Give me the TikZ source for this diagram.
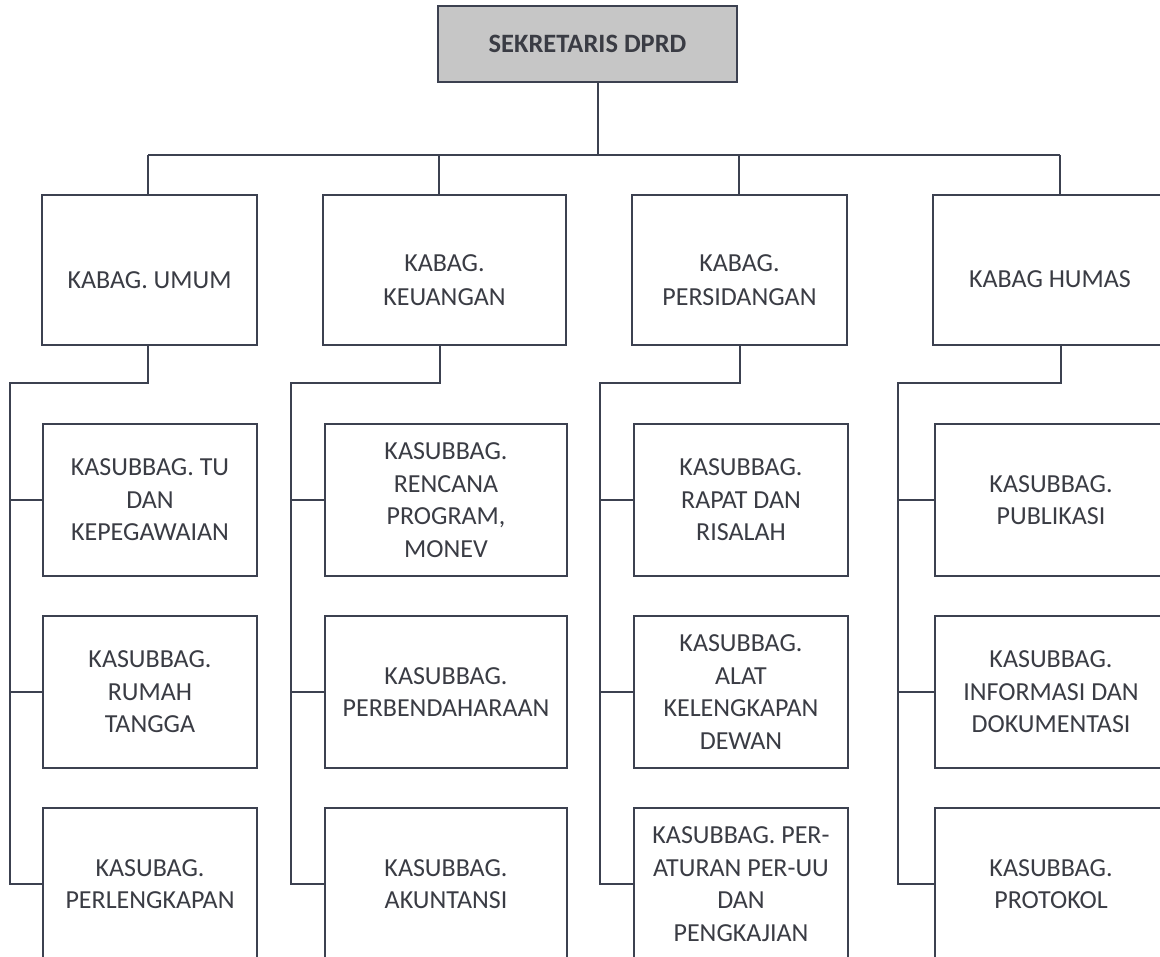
\documentclass[tikz,border=0pt]{standalone}
\usepackage{fontspec}
\setmainfont{Carlito}
\definecolor{linec}{HTML}{3C4150}
\definecolor{textc}{HTML}{3A3C44}
\definecolor{headfill}{HTML}{C6C6C6}
\begin{document}
\begin{tikzpicture}[x=1pt,y=-1pt,
  box/.style={draw=linec, line width=1.8pt, fill=white, align=center,
    inner sep=0pt, text=textc, font=\fontsize{26}{32.5}\selectfont,
    minimum height=152pt},
  headbox/.style={box, minimum height=150pt},
  headtext/.style={align=center, inner sep=0pt, text=textc,
    font=\fontsize{26}{33.5}\selectfont},
  topbox/.style={box, fill=headfill, minimum width=299pt, minimum height=76pt,
    font=\fontsize{26.5}{30}\selectfont\bfseries},
  conn/.style={draw=linec, line width=1.5pt}]
\useasboundingbox (0,0) rectangle (1160,957);
\clip (0,0) rectangle (1160,957);
\fill[white] (0,0) rectangle (1160,957);

% head of the secretariat
\node[topbox] (sek) at (587.5,44) {SEKRETARIS DPRD};

% divisions (labels sit a little below the middle of each box)
\node[headbox, minimum width=215pt] (umum)  at (149.5,270) {};
\node[headbox, minimum width=243pt] (keu)   at (444.5,270) {};
\node[headbox, minimum width=215pt] (sid)   at (739.5,270) {};
\node[headbox, minimum width=234pt] (humas) at (1050,270)  {};
\node[headtext] (umumT)  at ([yshift=-10pt]umum.center)  {KABAG. UMUM};
\node[headtext] (keuT)   at ([yshift=-10pt]keu.center)   {KABAG.\\KEUANGAN};
\node[headtext] (sidT)   at ([yshift=-10pt]sid.center)   {KABAG.\\PERSIDANGAN};
\node[headtext] (humasT) at ([yshift=-9pt]humas.center)  {KABAG HUMAS};

% sub-divisions, column 1
\node[box, minimum width=214pt] (u1) at (150,500) {KASUBBAG. TU\\DAN\\KEPEGAWAIAN};
\node[box, minimum width=214pt] (u2) at (150,692) {KASUBBAG.\\RUMAH\\TANGGA};
\node[box, minimum width=214pt] (u3) at (150,884) {KASUBAG.\\PERLENGKAPAN};
% column 2
\node[box, minimum width=242pt] (k1) at (446,500) {KASUBBAG.\\RENCANA\\PROGRAM,\\MONEV};
\node[box, minimum width=242pt] (k2) at (446,692) {KASUBBAG.\\PERBENDAHARAAN};
\node[box, minimum width=242pt] (k3) at (446,884) {KASUBBAG.\\AKUNTANSI};
% column 3
\node[box, minimum width=214pt] (p1) at (741,500) {KASUBBAG.\\RAPAT DAN\\RISALAH};
\node[box, minimum width=214pt] (p2) at (741,692) {KASUBBAG.\\ALAT\\KELENGKAPAN\\DEWAN};
\node[box, minimum width=214pt] (p3) at (741,884) {KASUBBAG. PER-\\ATURAN PER-UU\\DAN\\PENGKAJIAN};
% column 4
\node[box, minimum width=232pt] (h1) at (1051,500) {KASUBBAG.\\PUBLIKASI};
\node[box, minimum width=232pt] (h2) at (1051,692) {KASUBBAG.\\INFORMASI DAN\\DOKUMENTASI};
\node[box, minimum width=232pt] (h3) at (1051,884) {KASUBBAG.\\PROTOKOL};

% top bus
\coordinate (stem) at (598,155);
\coordinate (d1) at (148,155);
\coordinate (d2) at (439,155);
\coordinate (d3) at (739,155);
\coordinate (d4) at (1060,155);
\draw[conn] (sek.south -| stem) -- (stem);
\draw[conn] (d1) -- (d4);
\draw[conn] (d1) -- (d1 |- umum.north);
\draw[conn] (d2) -- (d2 |- keu.north);
\draw[conn] (d3) -- (d3 |- sid.north);
\draw[conn] (d4) -- (d4 |- humas.north);

% branches to the sub-divisions
\coordinate (e1) at (148,383);  \coordinate (t1) at (10,383);
\coordinate (e2) at (440,383);  \coordinate (t2) at (291,383);
\coordinate (e3) at (740,383);  \coordinate (t3) at (600,383);
\coordinate (e4) at (1061,383); \coordinate (t4) at (898,383);

\draw[conn] (e1 |- umum.south) -- (e1) -- (t1) |- (u3.west);
\draw[conn] (t1 |- u1.west) -- (u1.west);
\draw[conn] (t1 |- u2.west) -- (u2.west);

\draw[conn] (e2 |- keu.south) -- (e2) -- (t2) |- (k3.west);
\draw[conn] (t2 |- k1.west) -- (k1.west);
\draw[conn] (t2 |- k2.west) -- (k2.west);

\draw[conn] (e3 |- sid.south) -- (e3) -- (t3) |- (p3.west);
\draw[conn] (t3 |- p1.west) -- (p1.west);
\draw[conn] (t3 |- p2.west) -- (p2.west);

\draw[conn] (e4 |- humas.south) -- (e4) -- (t4) |- (h3.west);
\draw[conn] (t4 |- h1.west) -- (h1.west);
\draw[conn] (t4 |- h2.west) -- (h2.west);
\end{tikzpicture}
\end{document}
